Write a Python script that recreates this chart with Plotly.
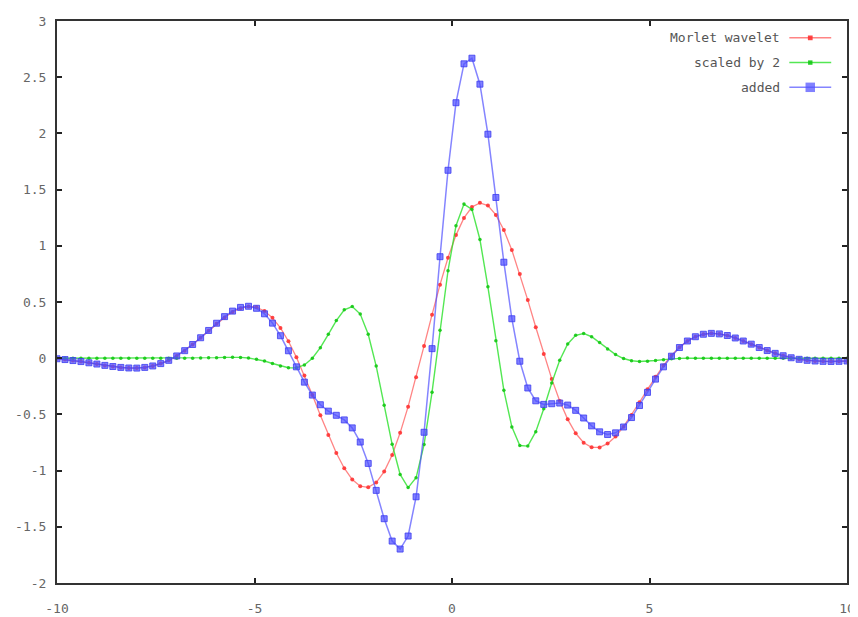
import plotly.graph_objects as go

# sample positions (100 samples over [-10, 10])
x_vals = [-10.000, -9.798, -9.596, -9.394, -9.192, -8.990, -8.788, -8.586, -8.384, -8.182,
          -7.980, -7.778, -7.576, -7.374, -7.172, -6.970, -6.768, -6.566, -6.364, -6.162,
          -5.960, -5.758, -5.556, -5.354, -5.152, -4.949, -4.747, -4.545, -4.343, -4.141,
          -3.939, -3.737, -3.535, -3.333, -3.131, -2.929, -2.727, -2.525, -2.323, -2.121,
          -1.919, -1.717, -1.515, -1.313, -1.111, -0.909, -0.707, -0.505, -0.303, -0.101,
          0.101, 0.303, 0.505, 0.707, 0.909, 1.111, 1.313, 1.515, 1.717, 1.919,
          2.121, 2.323, 2.525, 2.727, 2.929, 3.131, 3.333, 3.535, 3.737, 3.939,
          4.141, 4.343, 4.545, 4.747, 4.949, 5.152, 5.354, 5.556, 5.758, 5.960,
          6.162, 6.364, 6.566, 6.768, 6.970, 7.172, 7.374, 7.576, 7.778, 7.980,
          8.182, 8.384, 8.586, 8.788, 8.990, 9.192, 9.394, 9.596, 9.798, 10.000]

morlet = [-0.005, -0.012, -0.021, -0.030, -0.041, -0.052, -0.064, -0.074, -0.082, -0.087,
          -0.088, -0.082, -0.069, -0.048, -0.019, 0.020, 0.067, 0.122, 0.181, 0.244,
          0.306, 0.363, 0.411, 0.445, 0.460, 0.453, 0.420, 0.359, 0.269, 0.151,
          0.009, -0.153, -0.328, -0.508, -0.683, -0.843, -0.979, -1.080, -1.139, -1.149,
          -1.106, -1.009, -0.861, -0.664, -0.431, -0.169, 0.109, 0.387, 0.654, 0.894,
          1.095, 1.248, 1.345, 1.382, 1.358, 1.275, 1.140, 0.962, 0.750, 0.517,
          0.275, 0.038, -0.184, -0.381, -0.544, -0.668, -0.752, -0.793, -0.794, -0.760,
          -0.696, -0.609, -0.505, -0.392, -0.277, -0.166, -0.064, 0.024, 0.097, 0.152,
          0.191, 0.213, 0.221, 0.216, 0.202, 0.180, 0.153, 0.125, 0.095, 0.068,
          0.043, 0.022, 0.004, -0.010, -0.019, -0.025, -0.028, -0.029, -0.028, -0.025]

scaled = [0.000, 0.000, 0.000, 0.000, 0.000, 0.000, 0.000, 0.000, 0.000, 0.000,
          0.000, 0.000, 0.000, 0.000, 0.000, 0.000, 0.000, 0.000, 0.001, 0.003,
          0.005, 0.007, 0.008, 0.007, 0.002, -0.009, -0.025, -0.047, -0.069, -0.085,
          -0.086, -0.060, 0.000, 0.094, 0.212, 0.335, 0.430, 0.460, 0.393, 0.213,
          -0.070, -0.419, -0.766, -1.034, -1.151, -1.064, -0.768, -0.302, 0.249, 0.778,
          1.178, 1.371, 1.324, 1.056, 0.635, 0.155, -0.286, -0.611, -0.777, -0.782,
          -0.654, -0.449, -0.221, -0.018, 0.127, 0.204, 0.220, 0.191, 0.139, 0.081,
          0.032, -0.003, -0.023, -0.029, -0.027, -0.020, -0.013, -0.006, -0.002, 0.001,
          0.000, 0.000, 0.000, 0.000, 0.000, 0.000, 0.000, 0.000, 0.000, 0.000,
          0.000, 0.000, 0.000, 0.000, 0.000, 0.000, 0.000, 0.000, 0.000, 0.000]

added = [-0.005, -0.012, -0.021, -0.030, -0.041, -0.052, -0.064, -0.074, -0.082, -0.087,
         -0.088, -0.082, -0.069, -0.048, -0.019, 0.020, 0.067, 0.122, 0.182, 0.247,
         0.311, 0.370, 0.419, 0.452, 0.462, 0.444, 0.395, 0.312, 0.200, 0.066,
         -0.077, -0.213, -0.328, -0.414, -0.471, -0.508, -0.549, -0.620, -0.746, -0.936,
         -1.176, -1.428, -1.627, -1.698, -1.582, -1.233, -0.659, 0.085, 0.903, 1.672,
         2.273, 2.619, 2.669, 2.438, 1.993, 1.430, 0.854, 0.351, -0.027, -0.265,
         -0.379, -0.411, -0.405, -0.399, -0.417, -0.464, -0.532, -0.602, -0.655, -0.679,
         -0.664, -0.612, -0.528, -0.421, -0.304, -0.186, -0.077, 0.018, 0.095, 0.153,
         0.191, 0.213, 0.221, 0.216, 0.202, 0.180, 0.153, 0.125, 0.095, 0.068,
         0.043, 0.022, 0.004, -0.010, -0.019, -0.025, -0.028, -0.029, -0.028, -0.025]

series_names = ["Morlet wavelet", "scaled by 2", "added"]
x_ticks = [-10, -5, 0, 5, 10]
y_ticks = [-2, -1.5, -1, -0.5, 0, 0.5, 1, 1.5, 2, 2.5, 3]

RED_LINE = "rgba(255,80,80,0.7)"
RED_MK = "rgba(255,50,50,0.9)"
GRN_LINE = "rgba(40,225,40,0.8)"
GRN_MK = "rgba(20,200,20,0.9)"
BLU_LINE = "rgba(80,80,255,0.7)"
BLU_MK = "rgba(80,80,255,0.72)"

fig = go.Figure()
fig.add_trace(go.Scatter(x=x_vals, y=morlet, mode="lines+markers", name=series_names[0],
                         line=dict(color=RED_LINE, width=1.3),
                         marker=dict(color=RED_MK, size=4, symbol="circle")))
fig.add_trace(go.Scatter(x=x_vals, y=scaled, mode="lines+markers", name=series_names[1],
                         line=dict(color=GRN_LINE, width=1.4),
                         marker=dict(color=GRN_MK, size=3.5, symbol="circle")))
fig.add_trace(go.Scatter(x=x_vals, y=added, mode="lines+markers", name=series_names[2],
                         line=dict(color=BLU_LINE, width=1.5),
                         marker=dict(color=BLU_MK, size=6, symbol="square",
                                     line=dict(color="rgba(60,60,240,0.8)", width=1))))

FONT = "DejaVu Sans Mono"

# gnuplot-style key: text right-aligned, sample on the right
rows = [0.970, 0.926, 0.882]
line_cols = [RED_LINE, GRN_LINE, BLU_LINE]
mk_cols = [RED_MK, GRN_MK, BLU_MK]
mk_sizes = [0.003, 0.0028, 0.006]
shapes = []
annotations = []
for name, yy, lc, mc, ms in zip(series_names, rows, line_cols, mk_cols, mk_sizes):
    annotations.append(dict(xref="paper", yref="paper", x=0.918, y=yy, xanchor="right",
                            yanchor="middle", text=name, showarrow=False,
                            font=dict(family=FONT, size=13, color="#555")))
    shapes.append(dict(type="line", xref="paper", yref="paper", x0=0.927, x1=0.980,
                       y0=yy, y1=yy, line=dict(color=lc, width=1.5)))
    shapes.append(dict(type="rect", xref="paper", yref="paper",
                       x0=0.9535 - ms, x1=0.9535 + ms, y0=yy - ms * 1.4, y1=yy + ms * 1.4,
                       line=dict(width=0), fillcolor=mc))

fig.update_layout(
    width=858, height=617,
    margin=dict(l=49, r=19, t=6, b=42),
    paper_bgcolor="white", plot_bgcolor="white",
    showlegend=False,
    shapes=shapes, annotations=annotations,
    font=dict(family=FONT, size=13, color="#666"),
)
axis_common = dict(showgrid=False, zeroline=False, showline=True, mirror="ticks",
                   linecolor="#333", linewidth=2, ticks="inside", ticklen=5,
                   tickcolor="#222", tickwidth=1.5,
                   tickfont=dict(family=FONT, size=13, color="#666"))
fig.update_xaxes(range=[-10, 10], tickvals=x_ticks, ticktext=[str(t) for t in x_ticks],
                 ticklabelstandoff=12, **axis_common)
fig.update_yaxes(range=[-2, 3], tickvals=y_ticks,
                 ticktext=[("%g" % t) for t in y_ticks], ticklabelstandoff=6,
                 **axis_common)

fig.write_html("out.html")
